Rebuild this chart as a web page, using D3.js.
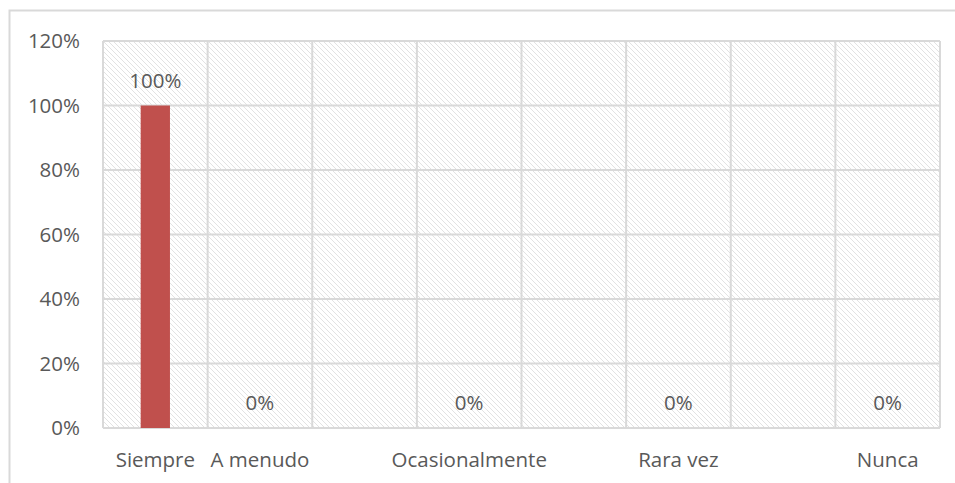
<!DOCTYPE html>
<html>
<head>
<meta charset="utf-8">
<script src="https://cdn.jsdelivr.net/npm/d3@7"></script>
<style>
  body { margin: 0; background: #fff; }
  text { font-family: "Open Sans", sans-serif; fill: #595959; }
</style>
</head>
<body>
<svg id="chart" width="955" height="483"></svg>
<script>
var categories = ["Siempre", "A menudo", "", "Ocasionalmente", "", "Rara vez", "", "Nunca"];
var values = [1, 0, null, 0, null, 0, null, 0];
var yTicks = [0, 0.2, 0.4, 0.6, 0.8, 1.0, 1.2];

var W = 955, H = 483,
    margin = {top: 41, right: 15, bottom: 55, left: 103};

var svg = d3.select("#chart");

// motif hachuré du fond
var defs = svg.append("defs");
var pat = defs.append("pattern")
    .attr("id", "hatch")
    .attr("patternUnits", "userSpaceOnUse")
    .attr("width", 5)
    .attr("height", 5);
pat.append("path")
    .attr("d", "M-1,-1 L6,6 M-1,4 L1,6 M4,-1 L6,1")
    .attr("stroke", "#e2e2e2")
    .attr("stroke-width", 1);

// cadre du graphique
svg.append("rect")
    .attr("x", 9.5).attr("y", 10.5)
    .attr("width", 980).attr("height", 520)
    .attr("fill", "none")
    .attr("stroke", "#d9d9d9")
    .attr("stroke-width", 2);

var w = W - margin.left - margin.right,
    h = H - margin.top - margin.bottom;

var g = svg.append("g")
    .attr("transform", "translate(" + margin.left + "," + margin.top + ")");

var x = d3.scaleBand()
    .domain(d3.range(categories.length))
    .range([0, w])
    .paddingInner(0.72)
    .paddingOuter(0.36);

var y = d3.scaleLinear()
    .domain([0, 1.2])
    .range([h, 0]);

g.append("rect")
    .attr("width", w).attr("height", h)
    .attr("fill", "url(#hatch)");

var step = x.step();

// grille
g.selectAll("line.hgrid")
    .data(yTicks)
    .enter().append("line")
    .attr("class", "hgrid")
    .attr("x1", 0).attr("x2", w)
    .attr("y1", function(d) { return y(d); })
    .attr("y2", function(d) { return y(d); })
    .attr("stroke", "#d9d9d9")
    .attr("stroke-width", 2);

g.selectAll("line.vgrid")
    .data(d3.range(categories.length + 1))
    .enter().append("line")
    .attr("class", "vgrid")
    .attr("x1", function(i) { return i * step; })
    .attr("x2", function(i) { return i * step; })
    .attr("y1", 0).attr("y2", h)
    .attr("stroke", "#d9d9d9")
    .attr("stroke-width", 2);

// axe Y
var yAxis = g.append("g")
    .call(d3.axisLeft(y).tickValues(yTicks).tickSize(0).tickPadding(23)
        .tickFormat(d3.format(".0%")));
yAxis.select(".domain").remove();
yAxis.selectAll("text")
    .style("font-family", "'Open Sans', sans-serif")
    .style("font-size", "20.5px")
    .attr("fill", "#595959");

// axe X
var xAxis = g.append("g")
    .attr("transform", "translate(0," + h + ")")
    .call(d3.axisBottom(x).tickSize(0).tickPadding(24)
        .tickFormat(function(i) { return categories[i]; }));
xAxis.select(".domain").remove();
xAxis.selectAll("text")
    .style("font-family", "'Open Sans', sans-serif")
    .style("font-size", "20.5px")
    .attr("fill", "#595959");

var data = values.map(function(v, i) { return {i: i, v: v}; })
    .filter(function(d) { return d.v !== null; });

g.selectAll("rect.bar")
    .data(data)
    .enter().append("rect")
    .attr("class", "bar")
    .attr("x", function(d) { return x(d.i); })
    .attr("width", x.bandwidth())
    .attr("y", function(d) { return y(d.v); })
    .attr("height", function(d) { return h - y(d.v); })
    .attr("fill", "#C0504D");

g.selectAll("text.lbl")
    .data(data)
    .enter().append("text")
    .attr("class", "lbl")
    .attr("x", function(d) { return x(d.i) + x.bandwidth() / 2; })
    .attr("y", function(d) { return y(d.v) - 25; })
    .attr("dy", "0.35em")
    .attr("text-anchor", "middle")
    .style("font-size", "20.5px")
    .text(function(d) { return d3.format(".0%")(d.v); });
</script>
</body>
</html>
